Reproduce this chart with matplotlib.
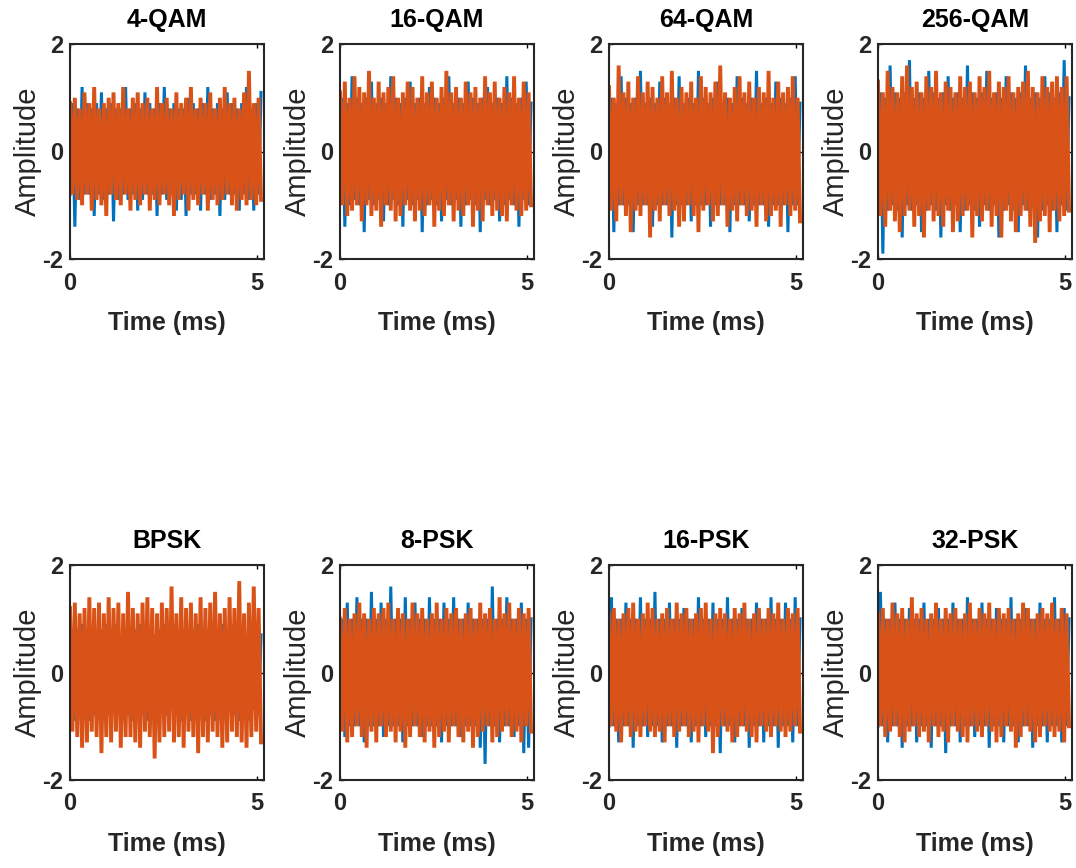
import numpy as np
import matplotlib
matplotlib.use("Agg")
import matplotlib.pyplot as plt

titles = ["4-QAM", "16-QAM", "64-QAM", "256-QAM", "BPSK", "8-PSK", "16-PSK", "32-PSK"]
duration_ms = 5.12

# In-phase (blue) and quadrature (orange) samples (coarse)
blue_4qam = [-.8,.9,-1.4,.8,-.9,1.2,-.8,.9,-.8,.8,-1.2,.9,-.8,1.1,-.9,.8,-.8,.9,-1.3,.8,-.9,.8,-.8,1.2,-.9,.8,-.8,.9,-1.1,.8,-.9,1.1,-.8,.9,-.8,.8,-1.2,.9,-.8,1.2,-.9,.8,-.8,.9,-1.1,.8,-.9,.8,-1.2,1.0,-.8,.9,-.8,.8,-1.1,.9,-.8,1.2,-.9,.8,-.8,.9,-1.2,.8,-.9,1.1,-.8,.9,-.8,.8,-1.1,.9,-.8,1.2,-.9,.8,-1.1,.9,-.8,1.1]
orange_4qam = [.9,-.8,1.0,-.9,.8,-1.0,1.1,-.8,.9,-1.1,1.2,-.9,.8,-1.0,.9,-1.2,1.0,-.8,1.1,-.9,.9,-1.0,1.2,-.8,.8,-1.1,1.0,-.9,1.1,-1.0,.9,-.8,1.0,-1.1,.8,-.9,1.2,-1.0,.9,-.8,1.0,-1.0,.8,-1.2,1.1,-.9,.9,-.8,1.0,-1.1,1.2,-.9,.8,-1.0,1.0,-.8,.9,-1.1,1.1,-.9,.8,-1.0,1.0,-.9,1.2,-.8,.9,-1.0,1.0,-1.1,.8,-.9,1.1,-1.0,1.5,-.9,.9,-1.0,1.0,-.9]

blue_16qam = [-.9,1.0,-1.4,.9,-1.0,1.4,-.9,1.0,-1.0,.9,-1.5,1.0,-.9,1.3,-1.0,.9,-.9,1.0,-1.3,.9,-1.0,1.4,-.9,1.0,-1.0,.9,-1.4,1.0,-.9,1.3,-1.0,.9,-.9,1.0,-1.5,.9,-1.0,1.2,-.9,1.0,-1.0,.9,-1.3,1.0,-.9,1.4,-1.0,.9,-.9,1.0,-1.4,.9,-1.0,1.3,-.9,1.0,-1.0,.9,-1.5,1.0,-.9,1.2,-1.0,.9,-.9,1.0,-1.3,.9,-1.0,1.4,-.9,1.0,-1.0,.9,-1.4,1.0,-.9,1.3,-1.0,.9]
orange_16qam = [1.1,-1.0,1.3,-1.2,1.0,-1.1,1.4,-1.0,1.2,-1.3,1.1,-1.0,1.5,-1.2,1.0,-1.1,1.3,-1.4,1.1,-1.0,1.2,-1.1,1.4,-1.3,1.0,-1.2,1.1,-1.0,1.3,-1.1,1.2,-1.3,1.0,-1.1,1.4,-1.2,1.1,-1.0,1.3,-1.4,1.0,-1.1,1.2,-1.2,1.5,-1.0,1.1,-1.3,1.2,-1.1,1.0,-1.2,1.3,-1.0,1.1,-1.4,1.2,-1.1,1.0,-1.3,1.4,-1.0,1.1,-1.2,1.3,-1.1,1.0,-1.2,1.2,-1.3,1.1,-1.0,1.4,-1.1,1.0,-1.2,1.3,-1.1,1.1,-1.0]

blue_64qam = [-1.0,1.0,-1.5,.9,-1.0,1.4,-1.0,1.0,-1.0,.9,-1.5,1.0,-1.0,1.5,-1.0,.9,-1.0,1.0,-1.4,.9,-1.0,1.3,-1.0,1.0,-1.0,.9,-1.6,1.0,-1.0,1.4,-1.0,.9,-1.0,1.0,-1.3,.9,-1.0,1.5,-1.0,1.0,-1.0,.9,-1.4,1.0,-1.0,1.3,-1.0,.9,-1.0,1.0,-1.5,.9,-1.0,1.4,-1.0,1.0,-1.0,.9,-1.3,1.0,-1.0,1.5,-1.0,.9,-1.0,1.0,-1.4,.9,-1.0,1.3,-1.0,1.0,-1.0,.9,-1.5,1.0,-1.0,1.4,-1.0,.9]
orange_64qam = [1.2,-1.1,1.0,-1.3,1.6,-1.0,1.1,-1.2,1.3,-1.5,1.0,-1.1,1.4,-1.2,1.1,-1.0,1.3,-1.6,1.2,-1.1,1.0,-1.3,1.4,-1.0,1.1,-1.2,1.5,-1.1,1.0,-1.4,1.2,-1.3,1.1,-1.0,1.3,-1.2,1.0,-1.5,1.4,-1.1,1.2,-1.0,1.1,-1.3,1.3,-1.2,1.6,-1.0,1.1,-1.4,1.0,-1.1,1.2,-1.3,1.4,-1.0,1.1,-1.2,1.3,-1.1,1.0,-1.4,1.2,-1.0,1.1,-1.3,1.5,-1.2,1.0,-1.1,1.3,-1.4,1.1,-1.0,1.2,-1.2,1.4,-1.1,1.0,-1.3]

blue_256qam = [-1.0,1.1,-1.9,1.0,-1.1,1.6,-1.0,1.1,-1.1,1.0,-1.6,1.1,-1.0,1.7,-1.1,1.0,-1.0,1.1,-1.5,1.0,-1.1,1.5,-1.0,1.1,-1.1,1.0,-1.6,1.1,-1.0,1.4,-1.1,1.0,-1.0,1.1,-1.5,1.0,-1.1,1.6,-1.0,1.1,-1.1,1.0,-1.4,1.1,-1.0,1.5,-1.1,1.0,-1.0,1.1,-1.6,1.0,-1.1,1.4,-1.0,1.1,-1.1,1.0,-1.5,1.1,-1.0,1.6,-1.1,1.0,-1.0,1.1,-1.6,1.0,-1.1,1.4,-1.0,1.1,-1.1,1.0,-1.5,1.1,-1.0,1.7,-1.1,1.0]
orange_256qam = [1.3,-1.2,1.1,-1.4,1.5,-1.1,1.2,-1.3,1.1,-1.5,1.4,-1.2,1.6,-1.1,1.2,-1.4,1.3,-1.2,1.1,-1.6,1.4,-1.1,1.2,-1.3,1.5,-1.2,1.1,-1.4,1.3,-1.1,1.2,-1.5,1.1,-1.3,1.4,-1.2,1.2,-1.1,1.3,-1.6,1.1,-1.2,1.4,-1.3,1.2,-1.1,1.5,-1.4,1.1,-1.2,1.3,-1.6,1.2,-1.1,1.4,-1.3,1.1,-1.5,1.2,-1.2,1.3,-1.1,1.5,-1.4,1.2,-1.7,1.1,-1.3,1.4,-1.2,1.2,-1.5,1.3,-1.1,1.4,-1.3,1.2,-1.2,1.4,-1.1]

blue_bpsk = [-.8,.7,-.9,.8,-.7,.9,-.8,.7,-.9,.8,-.8,.7,-.9,.8,-.7,.9,-.8,.8,-.7,.9,-.8,.7,-.9,.8,-.8,.7,-.9,.8,-.7,.9,-.8,.7,-.9,.8,-.8,.7,-.9,.8,-.7,.9,-.8,.8,-.7,.9,-.8,.7,-.9,.8,-.8,.7,-.9,.8,-.7,.9,-.8,.7,-.9,.8,-.8,.7,-.9,.8,-.7,.9,-.8,.8,-.7,.9,-.8,.7,-.9,.8,-.8,.7,-.9,.8,-.7,.9,-.8,.7]
orange_bpsk = [1.2,-1.1,1.3,-1.2,1.1,-1.4,1.2,-1.3,1.4,-1.1,1.2,-1.2,1.3,-1.5,1.1,-1.2,1.4,-1.3,1.2,-1.1,1.3,-1.4,1.1,-1.2,1.5,-1.2,1.2,-1.3,1.1,-1.4,1.3,-1.1,1.4,-1.2,1.2,-1.6,1.1,-1.3,1.3,-1.2,1.2,-1.1,1.6,-1.3,1.1,-1.2,1.4,-1.4,1.2,-1.1,1.3,-1.2,1.1,-1.5,1.4,-1.2,1.2,-1.3,1.3,-1.1,1.5,-1.2,1.1,-1.4,1.2,-1.3,1.4,-1.1,1.2,-1.2,1.7,-1.3,1.1,-1.4,1.3,-1.2,1.6,-1.1,1.2,-1.3]

blue_8psk = [-1.0,1.0,-1.2,1.3,-1.0,1.0,-1.0,1.4,-1.0,1.0,-1.3,1.0,-1.0,1.5,-1.0,1.0,-1.0,1.3,-1.2,1.0,-1.0,1.6,-1.0,1.0,-1.0,1.0,-1.3,1.4,-1.0,1.0,-1.0,1.3,-1.0,1.0,-1.2,1.0,-1.0,1.4,-1.0,1.0,-1.0,1.0,-1.3,1.3,-1.0,1.0,-1.0,1.4,-1.0,1.0,-1.2,1.0,-1.0,1.3,-1.0,1.0,-1.0,1.0,-1.4,1.0,-1.7,1.0,-1.0,1.6,-1.0,1.0,-1.3,1.0,-1.0,1.4,-1.0,1.0,-1.2,1.0,-1.0,1.3,-1.5,1.0,-1.4,1.0]
orange_8psk = [1.0,-1.1,1.2,-1.3,1.0,-1.2,1.1,-1.0,1.3,-1.2,1.1,-1.4,1.0,-1.1,1.2,-1.3,1.1,-1.0,1.2,-1.2,1.3,-1.1,1.0,-1.3,1.2,-1.1,1.1,-1.4,1.0,-1.2,1.3,-1.0,1.1,-1.2,1.2,-1.3,1.0,-1.1,1.1,-1.4,1.3,-1.2,1.0,-1.1,1.2,-1.3,1.1,-1.0,1.2,-1.2,1.0,-1.3,1.1,-1.1,1.2,-1.4,1.0,-1.2,1.3,-1.1,1.1,-1.0,1.2,-1.3,1.0,-1.2,1.4,-1.1,1.1,-1.0,1.3,-1.2,1.0,-1.1,1.2,-1.3,1.1,-1.0,1.2,-1.1]

blue_16psk = [-1.0,1.4,-1.0,1.0,-1.3,1.0,-1.0,1.3,-1.0,1.0,-1.4,1.0,-1.0,1.4,-1.0,1.0,-1.2,1.0,-1.0,1.5,-1.0,1.0,-1.3,1.0,-1.0,1.3,-1.0,1.0,-1.4,1.0,-1.0,1.2,-1.0,1.0,-1.3,1.0,-1.0,1.4,-1.0,1.0,-1.2,1.0,-1.0,1.3,-1.0,1.0,-1.5,1.0,-1.0,1.4,-1.0,1.0,-1.3,1.0,-1.0,1.2,-1.0,1.0,-1.4,1.0,-1.0,1.3,-1.0,1.0,-1.3,1.0,-1.0,1.4,-1.0,1.0,-1.4,1.0,-1.0,1.3,-1.0,1.0,-1.3,1.4,-1.0,1.0]
orange_16psk = [1.1,-1.0,1.2,-1.1,1.0,-1.3,1.1,-1.0,1.2,-1.2,1.3,-1.1,1.0,-1.2,1.1,-1.0,1.3,-1.1,1.2,-1.2,1.0,-1.1,1.1,-1.3,1.2,-1.0,1.0,-1.2,1.3,-1.1,1.1,-1.0,1.2,-1.2,1.0,-1.1,1.1,-1.3,1.2,-1.0,1.3,-1.1,1.0,-1.5,1.1,-1.2,1.2,-1.0,1.1,-1.1,1.0,-1.3,1.2,-1.2,1.1,-1.0,1.3,-1.1,1.0,-1.2,1.1,-1.3,1.2,-1.0,1.0,-1.1,1.2,-1.2,1.1,-1.0,1.3,-1.1,1.0,-1.2,1.2,-1.1,1.1,-1.0,1.2,-1.1]

blue_32psk = [-1.0,1.5,-1.0,1.0,-1.3,1.0,-1.0,1.3,-1.0,1.0,-1.4,1.0,-1.0,1.2,-1.0,1.0,-1.3,1.0,-1.0,1.3,-1.0,1.0,-1.4,1.0,-1.0,1.2,-1.0,1.0,-1.5,1.0,-1.0,1.3,-1.0,1.0,-1.3,1.0,-1.0,1.4,-1.0,1.0,-1.2,1.0,-1.0,1.3,-1.0,1.0,-1.4,1.0,-1.0,1.2,-1.0,1.0,-1.3,1.0,-1.0,1.4,-1.0,1.0,-1.3,1.0,-1.0,1.2,-1.0,1.0,-1.4,1.0,-1.0,1.3,-1.0,1.0,-1.3,1.0,-1.0,1.4,-1.0,1.0,-1.3,1.2,-1.0,1.0]
orange_32psk = [1.1,-1.0,1.2,-1.2,1.0,-1.1,1.3,-1.0,1.1,-1.2,1.2,-1.3,1.0,-1.1,1.4,-1.0,1.1,-1.2,1.2,-1.1,1.0,-1.3,1.1,-1.0,1.3,-1.2,1.0,-1.1,1.2,-1.3,1.1,-1.0,1.2,-1.1,1.0,-1.2,1.1,-1.3,1.3,-1.0,1.0,-1.1,1.2,-1.2,1.1,-1.0,1.3,-1.1,1.0,-1.3,1.2,-1.2,1.1,-1.0,1.2,-1.1,1.0,-1.4,1.1,-1.2,1.3,-1.0,1.2,-1.1,1.0,-1.3,1.1,-1.2,1.2,-1.0,1.1,-1.1,1.3,-1.2,1.0,-1.1,1.2,-1.3,1.1,-1.0]

blue_series = [blue_4qam, blue_16qam, blue_64qam, blue_256qam, blue_bpsk, blue_8psk, blue_16psk, blue_32psk]
orange_series = [orange_4qam, orange_16qam, orange_64qam, orange_256qam, orange_bpsk, orange_8psk, orange_16psk, orange_32psk]

BLUE = "#0072BD"
ORANGE = "#D95319"
TXT = "#262626"

plt.rcParams['font.family'] = ['Liberation Sans', 'DejaVu Sans']
plt.rcParams['axes.unicode_minus'] = False

W, H = 1076, 868
fig = plt.figure(figsize=(W / 100, H / 100), dpi=100)

lefts = [70, 340, 609, 878]
tops = [44, 565]
aw, ah = 194, 215

for i, title in enumerate(titles):
    r, c = divmod(i, 4)
    ax = fig.add_axes([lefts[c] / W, (H - tops[r] - ah) / H, aw / W, ah / H])
    b = np.asarray(blue_series[i])
    o = np.asarray(orange_series[i])
    tb = np.linspace(0, duration_ms, len(b))
    to = np.linspace(0, duration_ms, len(o))
    ax.plot(tb, b, color=BLUE, lw=2.2, solid_joinstyle='miter')
    ax.plot(to, o, color=ORANGE, lw=2.8, solid_joinstyle='miter')
    ax.set_xlim(0, 5.2)
    ax.set_ylim(-2, 2)
    ax.set_xticks([0, 5])
    ax.set_yticks([-2, 0, 2])
    ax.tick_params(axis='both', direction='in', length=3, width=1, labelsize=17,
                   top=True, right=True)
    ax.tick_params(axis='x', pad=9)
    ax.tick_params(axis='y', pad=5)
    for lab in ax.get_xticklabels() + ax.get_yticklabels():
        lab.set_fontweight('bold')
        lab.set_color(TXT)
    for s in ax.spines.values():
        s.set_linewidth(1.5)
        s.set_color(TXT)
    ax.set_title(title, fontsize=18, fontweight='bold', pad=12)
    ax.set_xlabel("Time (ms)", fontsize=18, fontweight='bold', color=TXT, labelpad=12)
    ax.set_ylabel("Amplitude", fontsize=21, color=TXT, labelpad=0)

fig.savefig("out.png", dpi=100)
